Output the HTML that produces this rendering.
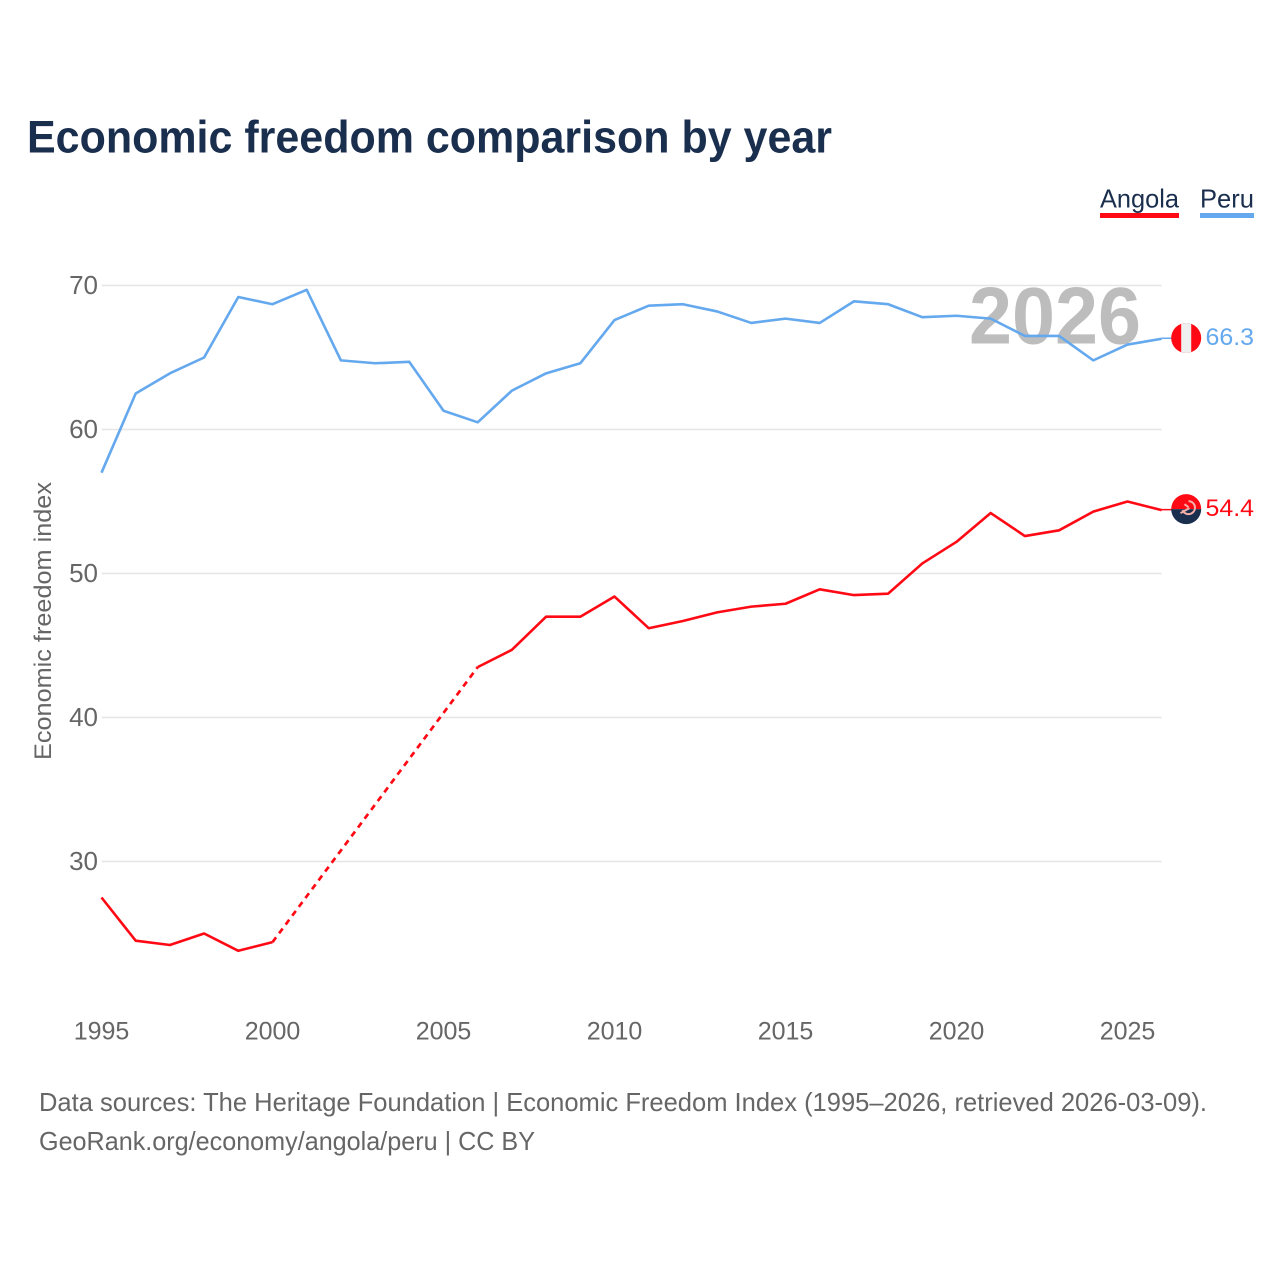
<!DOCTYPE html>
<html lang="en">
<head>
<meta charset="utf-8">
<title>Economic freedom comparison by year</title>
<style>
html,body{margin:0;padding:0;background:#fff;}
svg{display:block;}
text{font-family:"Liberation Sans",sans-serif;}
</style>
</head>
<body>
<svg id="chart" xmlns="http://www.w3.org/2000/svg" width="1280" height="1280" viewBox="0 0 1280 1280">
  <rect width="1280" height="1280" fill="#ffffff"/>
  <text x="27" y="152.5" font-size="45" font-weight="700" fill="#1a2e4e" textLength="805" lengthAdjust="spacingAndGlyphs">Economic freedom comparison by year</text>
  <g>
    <text x="1100" y="207.5" font-size="26" fill="#1a2e4e" textLength="79" lengthAdjust="spacingAndGlyphs">Angola</text>
    <rect x="1100" y="213" width="79" height="5" fill="#ff0a14"/>
  </g>
  <g>
    <text x="1200" y="207.5" font-size="26" fill="#1a2e4e" textLength="54" lengthAdjust="spacingAndGlyphs">Peru</text>
    <rect x="1200" y="213" width="54" height="5" fill="#64a8ee"/>
  </g>
  <g id="grid"></g>
  <text x="969" y="343.5" font-size="81" font-weight="700" fill="#bdbdbd" textLength="172" lengthAdjust="spacingAndGlyphs">2026</text>
  <g id="yticks"></g>
  <g id="xticks"></g>
  <text transform="translate(51,760) rotate(-90)" x="0" y="0" font-size="24" fill="#666666" textLength="278" lengthAdjust="spacingAndGlyphs">Economic freedom index</text>
  <g id="series"></g>
  <text x="39" y="1111" font-size="26" fill="#666666" textLength="1168" lengthAdjust="spacingAndGlyphs">Data sources: The Heritage Foundation | Economic Freedom Index (1995–2026, retrieved 2026-03-09).</text>
  <text x="39" y="1150" font-size="26" fill="#666666" textLength="496" lengthAdjust="spacingAndGlyphs">GeoRank.org/economy/angola/peru | CC BY</text>
</svg>
<script>
const years = [1995,1996,1997,1998,1999,2000,2001,2002,2003,2004,2005,2006,2007,2008,2009,2010,2011,2012,2013,2014,2015,2016,2017,2018,2019,2020,2021,2022,2023,2024,2025,2026];
const peruValues = [57.0,62.5,63.9,65.0,69.2,68.7,69.7,64.8,64.6,64.7,61.3,60.5,62.7,63.9,64.6,67.6,68.6,68.7,68.2,67.4,67.7,67.4,68.9,68.7,67.8,67.9,67.7,66.5,66.5,64.8,65.9,66.3];
const angolaValues = [27.5,24.5,24.2,25.0,23.8,24.4,null,null,null,null,null,43.5,44.7,47.0,47.0,48.4,46.2,46.7,47.3,47.7,47.9,48.9,48.5,48.6,50.7,52.2,54.2,52.6,53.0,54.3,55.0,54.4];
const yTickValues = [30,40,50,60,70];
const xTickValues = [1995,2000,2005,2010,2015,2020,2025];

const NS = 'http://www.w3.org/2000/svg';
const X_LEFT = 101.5, X_PER_YEAR = 34.2;
const Y_AT_70 = 285.5, Y_PER_UNIT = 14.4;
const RED = '#ff0a14', BLUE = '#64a8ee';

function xScale(year){ return X_LEFT + (year - 1995) * X_PER_YEAR; }
function yScale(v){ return Y_AT_70 + (70 - v) * Y_PER_UNIT; }
function make(tag, attrs, parent){
  const el = document.createElementNS(NS, tag);
  for (const k in attrs) el.setAttribute(k, attrs[k]);
  parent.appendChild(el);
  return el;
}
const gridG = document.getElementById('grid');
const yG = document.getElementById('yticks');
const xG = document.getElementById('xticks');
const seriesG = document.getElementById('series');
const xEnd = xScale(years[years.length - 1]);

yTickValues.forEach(function(v){
  const line = make('line', {x1:X_LEFT, x2:xEnd, y1:yScale(v), y2:yScale(v), stroke:'#e6e6e6', 'stroke-width':1.5}, gridG);
  
  
  const t = make('text', {x:98, y:yScale(v) + 8.5, 'text-anchor':'end', 'font-size':26, fill:'#666666'}, yG);
  
  
  t.textContent = v;
});
xTickValues.forEach(function(yr){
  const t = make('text', {x:xScale(yr), y:1039.5, 'text-anchor':'middle', 'font-size':25, fill:'#666666'}, xG);
  
  
  t.textContent = yr;
});

function drawSeries(name, values, color){
  const g = make('g', {}, seriesG);
  
  
  let segs = [], cur = [], gaps = [], lastIdx = -1;
  values.forEach(function(v, i){
    if (v === null) { if (cur.length) { segs.push(cur); cur = []; } return; }
    if (lastIdx >= 0 && i - lastIdx > 1) gaps.push([lastIdx, i]);
    cur.push([xScale(years[i]), yScale(v)]);
    lastIdx = i;
  });
  if (cur.length) segs.push(cur);
  segs.forEach(function(s, n){
    const p = make('polyline', {points:s.map(function(q){return q.join(',');}).join(' '), fill:'none', stroke:color, 'stroke-width':2.6, 'stroke-linejoin':'round'}, g);
    
    
  });
  gaps.forEach(function(pair, n){
    const d = make('line', {x1:xScale(years[pair[0]]), y1:yScale(values[pair[0]]), x2:xScale(years[pair[1]]), y2:yScale(values[pair[1]]), stroke:color, 'stroke-width':2.7, 'stroke-dasharray':'6 5'}, g);
    
    
  });
  const last = values[values.length - 1], ly = yScale(last);
  const conn = make('line', {x1:xEnd, x2:xEnd + 10, y1:ly - 0.5, y2:ly - 0.5, stroke:color, 'stroke-width':1.5}, g);
  
  
  const label = make('text', {x:1205.5, y:ly + 6, 'font-size':24.5, fill:color, textLength:48.5, lengthAdjust:'spacingAndGlyphs'}, g);
  
  
  label.textContent = last.toFixed(1);
  return ly;
}
const peruY = drawSeries('peru', peruValues, BLUE) - 0.8;
const angolaY = drawSeries('angola', angolaValues, RED);

const defs = make('defs', {}, seriesG);
const cpP = make('clipPath', {id:'clip-peru'}, defs);
make('circle', {cx:1186.2, cy:peruY, r:15}, cpP);
const cpA = make('clipPath', {id:'clip-angola'}, defs);
make('circle', {cx:1186.2, cy:angolaY - 1, r:15}, cpA);

const peruFlag = make('g', {'clip-path':'url(#clip-peru)'}, seriesG);


make('rect', {x:1170, y:peruY - 16, width:32, height:32, fill:RED}, peruFlag);
make('rect', {x:1181.2, y:peruY - 16, width:10, height:32, fill:'#efefef'}, peruFlag);

const angolaFlag = make('g', {'clip-path':'url(#clip-angola)'}, seriesG);


make('rect', {x:1170, y:angolaY - 17, width:33, height:16, fill:RED}, angolaFlag);
make('rect', {x:1170, y:angolaY - 1, width:33, height:16, fill:'#1a2e4e'}, angolaFlag);
make('path', {d:'M1188.5 ' + (angolaY - 9) + ' a6.5 6.5 0 1 1 -6 9 M1180.5 ' + (angolaY + 3) + ' l9 -5 M1184.5 ' + (angolaY - 6) + ' l4 3', fill:'none', stroke:'#f4b0a8', 'stroke-width':2}, angolaFlag);
</script>
</body>
</html>
